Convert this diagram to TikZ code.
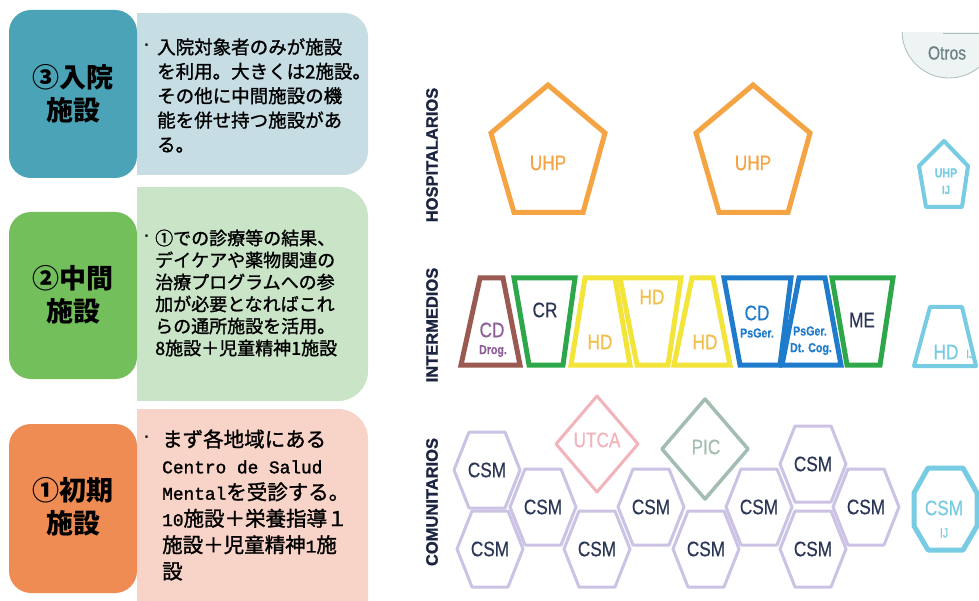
\documentclass[tikz,border=0pt]{standalone}
\usepackage{fontspec}
\setmainfont{Liberation Sans}
\newfontfamily\cjk{Noto Sans CJK JP}
\newfontfamily\cjkb[FakeBold=1.3]{Noto Sans CJK JP}
\newfontfamily\nsans[FakeStretch=0.82,FakeBold=0.5]{Liberation Sans}
\newfontfamily\lmono[FakeBold=1.5]{Liberation Mono}
\newfontfamily\heavy[FakeBold=1.2]{Liberation Sans}
\usetikzlibrary{calc}
\definecolor{tealD}{HTML}{4AA3B7}
\definecolor{tealL}{HTML}{C6DDE3}
\definecolor{grnD}{HTML}{72BF5B}
\definecolor{grnL}{HTML}{C9E4C7}
\definecolor{orgD}{HTML}{EE8C54}
\definecolor{orgL}{HTML}{F8D3C7}
\definecolor{uhp}{HTML}{F4A443}
\definecolor{ij}{HTML}{77CBE2}
\definecolor{brn}{HTML}{9A5A52}
\definecolor{grn}{HTML}{2EA64A}
\definecolor{yel}{HTML}{F3E43A}
\definecolor{yeltxt}{HTML}{F1BF4C}
\definecolor{blu}{HTML}{1F7BCB}
\definecolor{navy}{HTML}{2A3656}
\definecolor{hexc}{HTML}{CBC2E4}
\definecolor{pinkd}{HTML}{F2B3BA}
\definecolor{picc}{HTML}{A3BDB0}
\definecolor{secc}{HTML}{1B2541}
\definecolor{otrc}{HTML}{A9BDBD}
\definecolor{otrf}{HTML}{EEF3F3}
\definecolor{otrt}{HTML}{6B8184}
\definecolor{purtxt}{HTML}{8C5E95}
\newcommand\mo[1]{{\lmono\fontsize{17.8}{26.4}\selectfont #1}}
\tikzset{
  lab/.style={align=center, inner sep=0, text=black, font=\cjk\bfseries\fontsize{27}{33}\selectfont},
  body/.style={anchor=west, align=left, inner sep=0, text=black},
  dotb/.style={inner sep=0, font=\bfseries\fontsize{16}{16}\selectfont},
  sec/.style={rotate=90, inner sep=0, text=secc, font=\heavy\bfseries\fontsize{16.5}{16.5}\selectfont},
  big/.style={inner sep=0, font=\nsans\fontsize{21}{21}\selectfont},
  small/.style={inner sep=0, font=\nsans\bfseries\fontsize{13}{13}\selectfont},
  trap/.style={line width=5pt, line join=miter},
  hexline/.style={draw=hexc, line width=3pt, line join=round},
}
\newcommand\hexat[3]{%
  \draw[hexline, shift={(#1,#2)}] (-33,0) -- (-18,-38) -- (18,-38) -- (33,0) -- (18,38) -- (-18,38) -- cycle;
  \node[big, text=navy] (#3) at (#1,#2) {CSM};}
\begin{document}
\begin{tikzpicture}[x=1pt,y=-1pt]
\useasboundingbox (0,0) rectangle (979,601);
\fill[white] (0,0) rectangle (979,601);
% ---------- left boxes ----------
\fill[tealL, rounded corners=24] (137,13) rectangle (368,175);
\fill[tealL] (137,13) rectangle (190,175);
\fill[tealD, rounded corners=22] (9,10) rectangle (137,178);
\fill[grnL, rounded corners=30] (137,187) rectangle (368,401);
\fill[grnL] (137,187) rectangle (190,401);
\fill[grnD, rounded corners=22] (9,212) rectangle (137,379);
\fill[orgL, rounded corners=30] (137,409) rectangle (368,640);
\fill[orgL] (137,409) rectangle (190,601);
\fill[orgD, rounded corners=22] (9,424) rectangle (137,593);
\node[lab] (l3) at (73,94) {③入院\\施設};
\node[lab] (l2) at (73,295) {②中間\\施設};
\node[lab] (l1) at (73,507) {①初期\\施設};
\node[dotb] (d3) at (147,47) {·};
\node[dotb] (d2) at (147,238) {·};
\node[dotb] (d1) at (147,439) {·};
\node[body, font=\cjkb\fontsize{18.5}{24.4}\selectfont] (t3) at (157,95.5)
 {入院対象者のみが施設\\を利用。大きくは2施設。\\その他に中間施設の機\\能を併せ持つ施設があ\\る。};
\node[body, font=\cjkb\fontsize{18}{22}\selectfont] (t2) at (155,293)
 {①での診療等の結果、\\デイケアや薬物関連の\\治療プログラムへの参\\加が必要となればこれ\\らの通所施設を活用。\\8施設＋児童精神1施設};
\node[body, font=\cjkb\fontsize{20.5}{26.4}\selectfont] (t1) at (162,505)
 {まず各地域にある\\\mo{Centro de Salud}\\\mo{Mental}を受診する。\\\mo{10}施設＋栄養指導１\\施設＋児童精神\mo{1}施\\設};
% ---------- section labels ----------
\node[sec] (hosp) at (432,155) {HOSPITALARIOS};
\node[sec] (inter) at (432,325) {INTERMEDIOS};
\node[sec] (comu) at (432,502) {COMUNITARIOS};
% ---------- Otros ----------
\begin{scope}
\clip (880,33) rectangle (979,120);
\draw[otrc, fill=otrf, line width=0.8pt] (949,31) circle (47);
\end{scope}
\draw[otrc, line width=0.8pt] (943,33) -- (979,33);
\node[inner sep=0, text=otrt, font=\nsans\fontsize{19}{19}\selectfont] (otros) at (947,53) {Otros};
% ---------- hospital pentagons ----------
\draw[uhp, line width=5pt, line join=miter] (548,85) -- (491,133) -- (514,212.5) -- (583,212.5) -- (605,133) -- cycle;
\node[big, text=uhp] (u1) at (548,163) {UHP};
\draw[uhp, line width=5pt, line join=miter] (753,85) -- (696,133) -- (719,212.5) -- (788,212.5) -- (810,133) -- cycle;
\node[big, text=uhp] (u2) at (753,163) {UHP};
\draw[ij, line width=4pt, line join=round] (944,141) -- (919,166) -- (926,207) -- (962,207) -- (968,166) -- cycle;
\node[inner sep=0, text=ij, font=\nsans\bfseries\fontsize{13}{13}\selectfont] (uij) at (946,173) {UHP};
\node[inner sep=0, text=ij, font=\nsans\bfseries\fontsize{12}{12}\selectfont] (uij2) at (946,190) {IJ};
% ---------- intermediate trapezoids ----------
\draw[trap, brn] (480,278) -- (503,278) -- (520,365) -- (461,365) -- cycle;
\node[big, text=purtxt] (cd1) at (492,330) {CD};
\node[small, text=purtxt] (cd1b) at (493,351) {Drog.};
\draw[trap, grn] (514,278) -- (575,278) -- (563,365) -- (529,365) -- cycle;
\node[big, text=navy] (cr) at (545,310) {CR};
\draw[trap, yel] (585,278) -- (615,278) -- (630,365) -- (571,365) -- cycle;
\node[big, text=yeltxt] (hd1) at (600,342) {HD};
\draw[trap, yel] (620,278) -- (681,278) -- (668,365) -- (637,365) -- cycle;
\node[big, text=yeltxt] (hd2) at (652,297) {HD};
\draw[trap, yel] (692,278) -- (713,278) -- (730,365) -- (674,365) -- cycle;
\node[big, text=yeltxt] (hd3) at (705,342) {HD};
\draw[trap, blu] (724,278) -- (791,278) -- (780,365) -- (740,365) -- cycle;
\node[big, text=blu] (cd2) at (757,313) {CD};
\node[small, text=blu] (cd2b) at (757,333) {PsGer.};
\draw[trap, blu] (799,278) -- (825,278) -- (841,365) -- (782,365) -- cycle;
\node[small, text=blu] (ps1) at (810,331) {PsGer.};
\node[small, text=blu] (ps2) at (811,349) {Dt. Cog.};
\draw[trap, grn] (832,278) -- (893,278) -- (880,365) -- (847,365) -- cycle;
\node[big, text=navy] (me) at (862,320) {ME};
\draw[ij, line width=4pt, line join=round] (930,307) -- (962,307) -- (976,366) -- (914,366) -- cycle;
\node[big, text=ij] (hdij) at (946,352) {HD};
\node[inner sep=0, text=ij, font=\nsans\fontsize{12}{12}\selectfont] (hdij2) at (970,354) {IJ};
% ---------- community ----------
\draw[pinkd, line width=3pt, line join=round] (597,396) -- (638,444) -- (597,492) -- (556,444) -- cycle;
\node[big, text=pinkd] (utca) at (597,440) {UTCA};
\draw[picc, line width=3.5pt, line join=round] (705,399) -- (748,449) -- (705,499) -- (662,449) -- cycle;
\node[big, text=picc] (pic) at (706,447) {PIC};
\hexat{487}{470}{c1}
\hexat{490}{549}{c2}
\hexat{543}{507}{c3}
\hexat{597}{549}{c4}
\hexat{651}{507}{c5}
\hexat{706}{549}{c6}
\hexat{759}{507}{c7}
\hexat{813}{464}{c8}
\hexat{813}{549}{c9}
\hexat{866}{507}{c10}
\draw[ij, line width=5pt, line join=round] (928,468) -- (963,468) -- (977,493) -- (977,526) -- (963,550) -- (928,550) -- (914,526) -- (914,493) -- cycle;
\node[big, text=ij] (csmij) at (944,508) {CSM};
\node[inner sep=0, text=ij, font=\nsans\fontsize{13}{13}\selectfont] (csmij2) at (944,533) {IJ};
\end{tikzpicture}
\end{document}
